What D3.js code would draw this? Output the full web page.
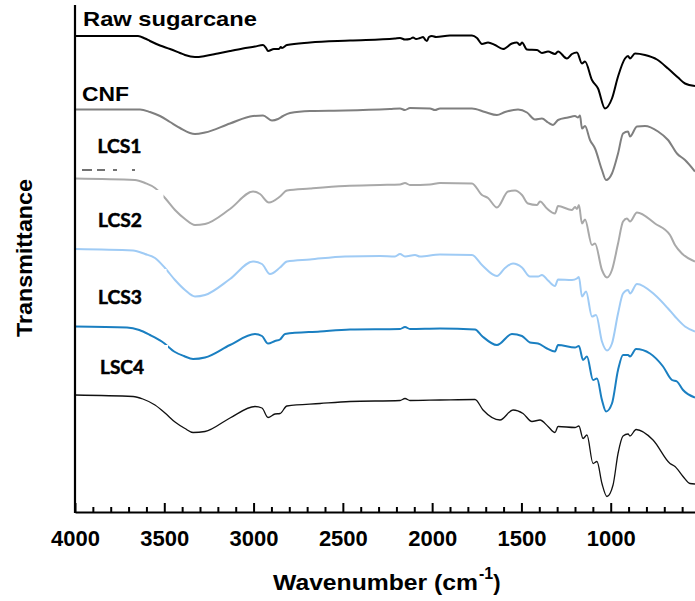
<!DOCTYPE html>
<html><head><meta charset="utf-8">
<script src="https://cdn.jsdelivr.net/npm/d3@7"></script>
<style>body{margin:0;background:#fff} svg{display:block}</style>
</head><body><svg id="c" width="695" height="601"></svg>
<script>
// ---- DATA ----
const seriesLabels = ["Raw sugarcane", "CNF", "LCS1", "LCS2", "LCS3", "LSC4"];
const majorTicks = [4000, 3500, 3000, 2500, 2000, 1500, 1000];
const xTitle = "Wavenumber (cm";
const yTitle = "Transmittance";

// [wavenumber (cm-1), transmittance (a.u., stacked)]
const rawSugarcane = [[4000,95.2],[3647,95.2],[3608,94.7],[3580,94.2],[3524,93.3],[3468,92.6],[3412,91.8],[3384,91.4],[3328,91.0],[3272,91.2],[3200,91.7],[3132,92.2],[3060,92.7],[2992,93.1],[2947,93.4],[2930,92.8],[2919,92.2],[2886,92.6],[2858,92.6],[2847,93.0],[2841,92.8],[2813,93.4],[2684,93.9],[2460,94.3],[2208,94.7],[2180,94.8],[2152,94.5],[2124,94.6],[2107,94.9],[2090,94.6],[2068,94.8],[2051,95.0],[2040,94.5],[2029,94.2],[2018,95.0],[2001,95.2],[1978,95.0],[1900,95.3],[1777,95.3],[1749,94.8],[1721,93.6],[1687,93.9],[1648,93.4],[1603,92.6],[1553,93.7],[1525,93.9],[1508,93.4],[1497,93.9],[1469,92.5],[1413,92.4],[1385,91.8],[1351,92.1],[1312,91.6],[1295,92.1],[1245,90.7],[1217,91.6],[1189,91.9],[1161,89.7],[1144,90.1],[1105,86.4],[1071,84.7],[1032,80.7],[993,82.7],[959,87.1],[920,90.7],[903,91.2],[892,90.7],[864,91.7],[808,91.4],[741,90.5],[679,88.7],[623,86.9],[584,85.7],[528,85.2]];
const cnf = [[4000,80.5],[3636,80.5],[3580,80.0],[3524,79.2],[3468,78.0],[3412,76.8],[3328,75.6],[3272,75.9],[3132,77.7],[3003,79.2],[2947,79.3],[2897,78.3],[2863,78.6],[2835,79.2],[2796,79.8],[2684,80.2],[2488,80.3],[2236,80.6],[2180,80.7],[2152,80.4],[2124,80.8],[2012,80.7],[1984,80.4],[1956,80.7],[1777,80.7],[1704,80.0],[1637,79.4],[1592,80.0],[1519,80.5],[1469,79.9],[1424,78.5],[1385,78.7],[1351,77.9],[1323,77.4],[1295,78.4],[1239,78.9],[1200,79.2],[1183,78.9],[1172,79.3],[1161,76.7],[1144,77.2],[1116,74.4],[1088,72.7],[1049,68.4],[1026,66.4],[993,67.7],[959,71.7],[931,75.7],[903,76.1],[892,75.1],[853,77.1],[808,77.2],[735,76.1],[679,74.4],[629,71.7],[584,70.4],[528,68.1]];
const lcs1 = [[4000,66.7],[3664,66.4],[3608,65.8],[3552,64.8],[3496,62.8],[3440,60.4],[3384,58.6],[3328,57.4],[3272,57.6],[3132,60.6],[3003,64.1],[2964,63.6],[2914,61.9],[2852,63.1],[2813,64.3],[2684,64.7],[2488,65.2],[2292,65.4],[2180,65.5],[2152,65.8],[2124,65.4],[2012,65.5],[1956,65.8],[1777,65.7],[1721,63.4],[1687,62.8],[1637,60.9],[1575,64.1],[1536,64.3],[1497,63.4],[1463,61.7],[1413,61.4],[1396,62.1],[1357,60.7],[1312,59.7],[1295,61.2],[1217,60.4],[1200,61.0],[1189,60.6],[1178,61.4],[1161,57.7],[1144,58.5],[1105,53.4],[1088,53.7],[1049,48.4],[1021,46.9],[993,48.4],[959,53.7],[931,58.1],[909,58.7],[892,58.1],[853,59.9],[752,57.7],[668,55.4],[640,53.4],[601,51.7],[528,50.1]];
const lcs2 = [[4000,52.6],[3675,52.3],[3608,51.6],[3552,50.8],[3496,48.8],[3440,46.4],[3384,44.4],[3328,43.1],[3272,43.4],[3132,46.6],[3003,50.1],[2953,49.6],[2908,47.6],[2852,48.9],[2813,50.1],[2684,50.5],[2488,51.1],[2292,51.2],[2208,51.1],[2180,51.6],[2152,51.1],[2096,51.4],[2068,51.1],[1956,51.5],[1777,51.4],[1721,49.4],[1637,47.2],[1592,48.8],[1547,49.7],[1497,48.9],[1452,47.1],[1407,47.1],[1385,47.4],[1351,46.3],[1312,45.2],[1295,46.5],[1217,46.4],[1189,46.7],[1178,47.0],[1161,43.1],[1138,44.1],[1105,39.1],[1082,39.4],[1049,34.1],[1021,32.3],[993,33.7],[959,39.7],[931,43.7],[903,44.4],[892,43.7],[853,45.6],[752,43.4],[679,40.7],[640,39.1],[584,37.1],[528,36.1]];
const lcs3 = [[4000,37.1],[3709,36.9],[3640,36.4],[3580,35.4],[3510,34.0],[3440,32.0],[3390,31.2],[3339,30.6],[3272,30.9],[3132,33.4],[2992,35.6],[2953,35.2],[2919,33.7],[2880,34.2],[2852,34.5],[2824,35.6],[2628,36.1],[2460,36.5],[2180,36.6],[2152,37.0],[2124,36.6],[1956,36.7],[1760,36.5],[1721,35.2],[1637,33.4],[1553,35.6],[1497,35.2],[1452,33.9],[1407,33.7],[1357,32.7],[1312,32.1],[1295,33.4],[1200,32.9],[1178,33.2],[1155,30.4],[1133,31.1],[1099,26.4],[1077,26.7],[1049,22.4],[1026,20.1],[993,21.7],[959,28.4],[931,31.4],[903,31.4],[892,31.1],[858,32.6],[780,31.7],[707,29.1],[657,26.4],[629,26.1],[595,24.4],[528,22.9]];
const lsc4 = [[4000,23.4],[3675,23.1],[3620,22.6],[3552,21.4],[3496,19.8],[3440,18.0],[3384,16.7],[3339,15.9],[3272,16.1],[3132,18.8],[2992,21.1],[2953,20.8],[2919,18.9],[2880,19.6],[2852,19.7],[2813,21.2],[2628,21.7],[2460,22.1],[2180,22.3],[2152,22.7],[2124,22.3],[1956,22.4],[1760,22.5],[1715,20.4],[1620,18.4],[1547,20.4],[1491,19.7],[1441,18.1],[1396,18.4],[1351,17.1],[1312,15.9],[1295,17.1],[1200,16.9],[1178,17.2],[1155,14.7],[1133,15.4],[1099,9.7],[1077,10.1],[1049,5.7],[1021,3.1],[987,5.4],[959,11.7],[931,15.2],[903,15.6],[892,15.2],[858,16.5],[763,14.4],[668,9.7],[640,9.1],[595,7.1],[556,5.7],[528,5.6]];

const seriesData = [rawSugarcane, cnf, lcs1, lcs2, lcs3, lsc4];
const seriesColors = ["#000000", "#7f7f7f", "#a9a9a9", "#9fcbf5", "#1a7fc1", "#111111"];
const seriesWidths = [2, 2, 2, 2, 2, 1.3];

// ---- CHART ----
const svg = d3.select("#c");
svg.append("rect").attr("width", 695).attr("height", 601).attr("fill", "#fff");

const x = d3.scaleLinear().domain([4000, 500]).range([75, 700]);
const y = d3.scaleLinear().domain([0, 100]).range([512, 12]);

const line = d3.line().x(d => x(d[0])).y(d => y(d[1])).curve(d3.curveMonotoneX);

svg.append("g").selectAll("path").data(seriesData).join("path")
  .attr("d", line)
  .attr("fill", "none")
  .attr("stroke", (d, i) => seriesColors[i])
  .attr("stroke-width", (d, i) => seriesWidths[i])
  .attr("stroke-linejoin", "round");

// white label boxes (as in the original figure, they mask bits of the curves)
const boxes = [[85, 190, 78.5, 45], [85, 269, 81.5, 40], [85, 345, 83, 40]];
svg.append("g").selectAll("rect").data(boxes).join("rect")
  .attr("x", d => d[0]).attr("y", d => d[1]).attr("width", d => d[2]).attr("height", d => d[3])
  .attr("fill", "#fff");

// x axis
const minorTicks = d3.range(4000, 500, -100).filter(v => !majorTicks.includes(v));
const gxMinor = svg.append("g").attr("transform", "translate(0,512)")
  .call(d3.axisBottom(x).tickValues(minorTicks).tickSizeInner(-5).tickSizeOuter(0).tickFormat(""));
gxMinor.select(".domain").remove();
gxMinor.selectAll("line").attr("stroke", "#000").attr("stroke-width", 2);

const gx = svg.append("g").attr("transform", "translate(0,512)")
  .call(d3.axisBottom(x).tickValues(majorTicks).tickSizeInner(-9).tickSizeOuter(0).tickPadding(18).tickFormat(d3.format("d")));
gx.select(".domain").attr("stroke", "#000").attr("stroke-width", 2.2);
gx.selectAll("line").attr("stroke", "#000").attr("stroke-width", 2);
gx.selectAll("text").attr("font-family", "Liberation Sans, Arial, sans-serif")
  .attr("font-weight", "bold").attr("font-size", 22).attr("fill", "#000");

// y axis line
svg.append("line").attr("x1", 75).attr("x2", 75).attr("y1", 5).attr("y2", 513)
  .attr("stroke", "#000").attr("stroke-width", 2.2);

// axis titles
const xt = svg.append("text").attr("x", 273).attr("y", 590)
  .attr("font-family", "Liberation Sans, Arial, sans-serif").attr("font-weight", "bold")
  .attr("font-size", 22).attr("fill", "#000");
xt.append("tspan").text(xTitle).attr("textLength", 205).attr("lengthAdjust", "spacingAndGlyphs");
xt.append("tspan").text("-1").attr("font-size", 16).attr("dy", -11).attr("dx", 1);
xt.append("tspan").text(")").attr("dy", 11);

svg.append("text").attr("transform", "translate(32,258) rotate(-90)")
  .attr("text-anchor", "middle")
  .attr("font-family", "Liberation Sans, Arial, sans-serif").attr("font-weight", "bold")
  .attr("font-size", 22).attr("fill", "#000")
  .attr("textLength", 158).attr("lengthAdjust", "spacingAndGlyphs")
  .text(yTitle);

// series labels
const labelPos = [[83, 26, 174], [82, 101, 47], [97.5, 153, 44], [98, 227, 44], [98, 304, 44], [100, 374, 44]];
svg.append("g").selectAll("text").data(seriesLabels).join("text")
  .attr("x", (d, i) => labelPos[i][0]).attr("y", (d, i) => labelPos[i][1])
  .attr("font-family", (d, i) => i < 2 ? "Liberation Sans, Arial, sans-serif" : "Lato, sans-serif")
  .attr("font-weight", "bold")
  .attr("font-size", (d, i) => i < 2 ? 21 : 19)
  .attr("stroke", (d, i) => i < 2 ? "none" : "#000")
  .attr("stroke-width", 0.5)
  .attr("textLength", (d, i) => labelPos[i][2]).attr("lengthAdjust", "spacingAndGlyphs")
  .attr("fill", "#000")
  .text(d => d);

// leftover dash marks under the LCS1 label
svg.append("path").attr("d", "M82,170H92M97,170H105M113,170H117M132,170H135")
  .attr("stroke", "#444").attr("stroke-width", 1.3).attr("fill", "none");
</script></body></html>
